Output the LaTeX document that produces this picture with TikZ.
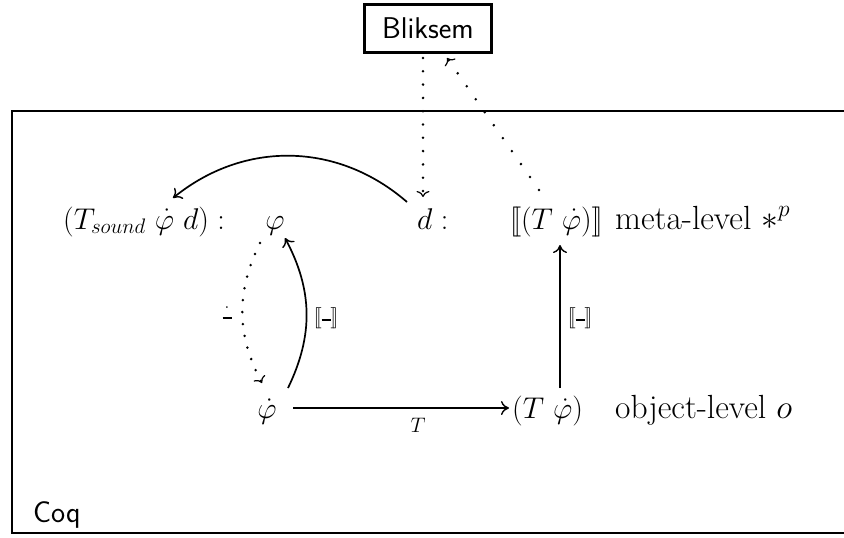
\RequirePackage{fix-cm}
\documentclass[tikz,border=0pt]{standalone}
\usetikzlibrary{arrows.meta,calc}
\newcommand{\bigfont}{\fontsize{30}{36}\selectfont}
\newcommand{\txtfont}{\fontsize{33.5}{40}\selectfont}
\newcommand{\bigsans}{\sffamily\fontsize{30}{36}\selectfont}
\newcommand{\mydash}{\rule[2pt]{9pt}{2pt}}
\newcommand{\llb}{\mathopen{[\mkern-2.5mu[}}
\newcommand{\rrb}{\mathclose{]\mkern-2.5mu]}}
\tikzset{
  lbl/.style={inner sep=0pt, font=\bigfont, anchor=base west},
  lblc/.style={inner sep=0pt, font=\bigfont, anchor=base},
  txtlbl/.style={inner sep=0pt, font=\txtfont, anchor=base west},
  edgelbl/.style={inner sep=0pt, font=\bigfont},
  cmtip/.style={-{Computer Modern Rightarrow[length=8pt,width=14pt,line width=1.4pt]}},
  arr/.style={line width=1.7pt, cmtip},
  dotarr/.style={line width=2.8pt, line cap=round, dash pattern=on 0pt off #1,
    -{Computer Modern Rightarrow[length=6pt,width=13pt,line width=1.2pt]}},
  frame/.style={line width=2.2pt},
}
\begin{document}
\begin{tikzpicture}[x=1pt,y=-1pt]
\useasboundingbox (0,0) rectangle (844,538);
% outer Coq frame (right side lies beyond the picture)
\draw[frame] (850,111) -- (12,111) -- (12,533) -- (850,533);
\node[lbl, font=\bigsans] (coq) at (33,522) {Coq};
% Bliksem box
\node[draw, line width=3pt, minimum width=127pt, minimum height=48pt, inner sep=0pt, font=\bigsans] (bl) at (428,28.5) {Bliksem};
% meta level
\node[lbl] (ts) at (63,229) {$(T_{sound}\ \dot\varphi\ d) :$};
\node[lblc] (phi) at (275,229) {$\varphi$};
\node[lbl] (d) at (417,229) {$d :$};
\node[lbl] (sem) at (510,229) {$\llb(T\ \dot\varphi)\rrb$};
\node[txtlbl] (meta) at (615,229) {meta-level $*^p$};
% object level
\node[lblc] (phid) at (267,418) {$\dot\varphi$};
\node[lbl] (tphi) at (512,418) {$(T\ \dot\varphi)$};
\node[txtlbl] (obj) at (615,418) {object-level $o$};
% T arrow
\draw[arr] ($(phid.base)+(26,-10)$) -- ($(tphi.base west)+(-3,-10)$);
\node[edgelbl, anchor=base] (tl) at (418,432) {$\scriptstyle T$};
% semantic arrow
\draw[arr] ($(tphi.base west)+(48,-30)$) -- ($(sem.base west)+(50,16)$);
\node[edgelbl] (sl) at (580,318) {$\scriptstyle\llb\mydash\rrb$};
% solid arc phidot -> phi
\draw[arr] ($(phid.base)+(21,-30)$) to[bend right=27] ($(phi.base)+(10,9)$);
\node[edgelbl] (al) at (326,318) {$\scriptstyle\llb\mydash\rrb$};
% dotted arc phi -> phidot
\draw[dotarr=12pt] ($(phi.base)+(-15,14)$) to[bend right=27] ($(phid.base)+(-5,-35)$);
\node[edgelbl] (dl) at (227,314) {$\scriptstyle\dot{\mbox{\mydash}}$};
% d -> Tsound
\draw[arr] ($(d.base west)+(-10,-27)$) to[bend right=40] ($(ts.base west)+(110,-31)$);
% Bliksem -> d
\draw[dotarr=13.3pt] ($(bl.south)+(-5,4)$) -- ($(d.base west)+(6,-32)$);
% sem -> Bliksem
\draw[dotarr=15.8pt] ($(sem.base west)+(29,-39)$) -- ($(bl.south)+(19,4)$);
\end{tikzpicture}
\end{document}
